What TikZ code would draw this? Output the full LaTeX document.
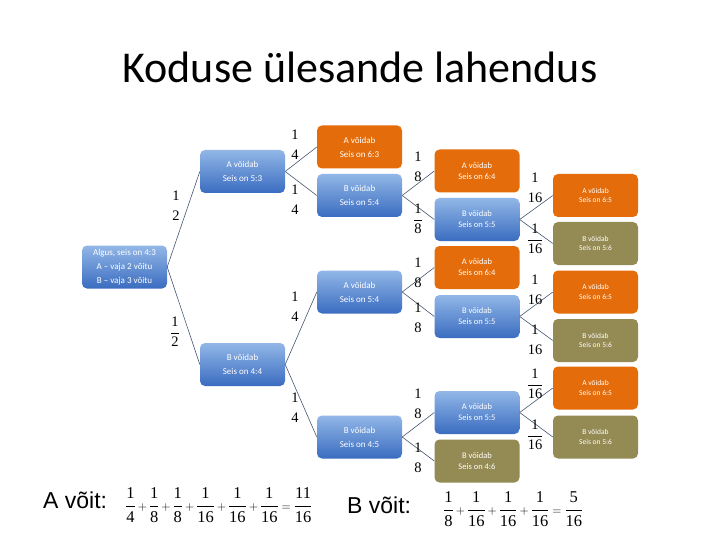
\documentclass[tikz,border=0pt]{standalone}
\usepackage{amsmath}
\usepackage{fontspec}
\setmainfont{Carlito}
\newfontfamily\tms{Liberation Serif}
\newfontfamily\arl{Liberation Sans}
\definecolor{boxblueT}{RGB}{146,183,231}
\definecolor{boxblueB}{RGB}{58,108,192}
\definecolor{boxorange}{RGB}{228,108,10}
\definecolor{boxolive}{RGB}{148,138,84}
\definecolor{edgecol}{RGB}{70,88,115}
\newcommand\efb[2]{$\genfrac{}{}{0.5pt}{0}{\text{#1}}{\text{#2}}$}
\newcommand\efn[2]{$\genfrac{}{}{0pt}{0}{\text{#1}}{\text{#2}}$}
\newcommand\spl{\mathbin{\scriptstyle +}}
\newcommand\seq{\mathrel{\scriptstyle =}}
\tikzset{
 box/.style={rectangle, rounded corners=5pt, minimum width=85pt, minimum height=43pt, inner sep=0pt, text=white, align=center},
 bluebox/.style={box, top color=boxblueT, bottom color=boxblueB},
 orangebox/.style={box, fill=boxorange},
 olivebox/.style={box, fill=boxolive},
 txtA/.style={font=\fontsize{9}{14}\selectfont},
 txtB/.style={font=\fontsize{8.5}{11}\selectfont},
 txtC/.style={font=\fontsize{7.5}{9.5}\selectfont},
 conn/.style={draw=edgecol, line width=0.6pt},
 prob/.style={font=\tms\fontsize{14.5}{17}\selectfont, inner sep=0pt},
 sumf/.style={font=\tms\fontsize{16.5}{19}\selectfont, inner sep=0pt, anchor=west},
 wlab/.style={font=\arl\fontsize{23}{26}\selectfont, inner sep=0pt, anchor=base west},
}
\begin{document}
\begin{tikzpicture}[x=1pt,y=-1pt]
\useasboundingbox[fill=white] (0,0) rectangle (720,540);
\node[font=\fontsize{44}{50}\selectfont, anchor=base, inner sep=0pt] (title) at (360,83) {Koduse ülesande lahendus};

% nodes
\node[bluebox, txtA] (root) at (124.5,267) {Algus, seis on 4:3\\A – vaja 2 võitu\\B – vaja 3 võitu};
\node[bluebox, txtA] (a1) at (242.5,171.5) {A võidab\\Seis on 5:3};
\node[bluebox, txtA] (b1) at (242.5,364.5) {B võidab\\Seis on 4:4};
\node[orangebox, txtA] (a2) at (359.5,147) {A võidab\\Seis on 6:3};
\node[bluebox, txtA] (b2) at (359.5,195.5) {B võidab\\Seis on 5:4};
\node[bluebox, txtA] (c2) at (359.5,292) {A võidab\\Seis on 5:4};
\node[bluebox, txtA] (d2) at (359.5,437) {B võidab\\Seis on 4:5};
\node[orangebox, txtB] (e3) at (477,171) {A võidab\\Seis on 6:4};
\node[bluebox, txtB] (f3) at (477,219.5) {B võidab\\Seis on 5:5};
\node[orangebox, txtB] (g3) at (477,267.5) {A võidab\\Seis on 6:4};
\node[bluebox, txtB] (h3) at (477,316.5) {B võidab\\Seis on 5:5};
\node[bluebox, txtB] (i3) at (477,412.5) {A võidab\\Seis on 5:5};
\node[olivebox, txtB] (j3) at (477,461) {B võidab\\Seis on 4:6};
\node[orangebox, txtC] (k4) at (595.5,195.5) {A võidab\\Seis on 6:5};
\node[olivebox, txtC] (l4) at (595.5,243.5) {B võidab\\Seis on 5:6};
\node[orangebox, txtC] (m4) at (595.5,292) {A võidab\\Seis on 6:5};
\node[olivebox, txtC] (n4) at (595.5,340.5) {B võidab\\Seis on 5:6};
\node[orangebox, txtC] (o4) at (595.5,388) {A võidab\\Seis on 6:5};
\node[olivebox, txtC] (p4) at (595.5,437) {B võidab\\Seis on 5:6};

% connectors
\draw[conn] (root.east) -- (a1.west);
\draw[conn] (root.east) -- (b1.west);
\draw[conn] (a1.east) -- (a2.west);
\draw[conn] (a1.east) -- (b2.west);
\draw[conn] (b1.east) -- (c2.west);
\draw[conn] (b1.east) -- (d2.west);
\draw[conn] (b2.east) -- (e3.west);
\draw[conn] (b2.east) -- (f3.west);
\draw[conn] (c2.east) -- (g3.west);
\draw[conn] (c2.east) -- (h3.west);
\draw[conn] (d2.east) -- (i3.west);
\draw[conn] (d2.east) -- (j3.west);
\draw[conn] (f3.east) -- (k4.west);
\draw[conn] (f3.east) -- (l4.west);
\draw[conn] (h3.east) -- (m4.west);
\draw[conn] (h3.east) -- (n4.west);
\draw[conn] (i3.east) -- (o4.west);
\draw[conn] (i3.east) -- (p4.west);

% probabilities
\node[prob] (p1) at (176,206) {\efn{1}{2}};
\node[prob] (p2) at (175,332) {\efb{1}{2}};
\node[prob] (p3) at (295,145) {\efn{1}{4}};
\node[prob] (p4) at (295,200) {\efn{1}{4}};
\node[prob] (p5) at (295,307) {\efn{1}{4}};
\node[prob] (p6) at (295,408) {\efn{1}{4}};
\node[prob] (p7) at (418,167) {\efn{1}{8}};
\node[prob] (p8) at (418,219) {\efb{1}{8}};
\node[prob] (p9) at (418,273) {\efn{1}{8}};
\node[prob] (p10) at (418,318) {\efn{1}{8}};
\node[prob] (p11) at (418,404) {\efn{1}{8}};
\node[prob] (p12) at (418,458) {\efn{1}{8}};
\node[prob] (p13) at (535,188) {\efn{1}{16}};
\node[prob] (p14) at (535,239) {\efb{1}{16}};
\node[prob] (p15) at (535,290) {\efn{1}{16}};
\node[prob] (p16) at (535,340) {\efn{1}{16}};
\node[prob] (p17) at (535,384) {\efb{1}{16}};
\node[prob] (p18) at (535,435) {\efb{1}{16}};

% results
\node[wlab] (awin) at (43,508) {A võit:};
\node[sumf] (asum) at (125,505) {\medmuskip=2mu\thickmuskip=3mu$\genfrac{}{}{0.5pt}{0}{\text{1}}{\text{4}}\spl\genfrac{}{}{0.5pt}{0}{\text{1}}{\text{8}}\spl\genfrac{}{}{0.5pt}{0}{\text{1}}{\text{8}}\spl\genfrac{}{}{0.5pt}{0}{\text{1}}{\text{16}}\spl\genfrac{}{}{0.5pt}{0}{\text{1}}{\text{16}}\spl\genfrac{}{}{0.5pt}{0}{\text{1}}{\text{16}}\seq\genfrac{}{}{0.5pt}{0}{\text{11}}{\text{16}}$};
\node[wlab] (bwin) at (347,513) {B võit:};
\node[sumf] (bsum) at (443,509) {\medmuskip=2mu\thickmuskip=3mu$\genfrac{}{}{0.5pt}{0}{\text{1}}{\text{8}}\spl\genfrac{}{}{0.5pt}{0}{\text{1}}{\text{16}}\spl\genfrac{}{}{0.5pt}{0}{\text{1}}{\text{16}}\spl\genfrac{}{}{0.5pt}{0}{\text{1}}{\text{16}}\seq\genfrac{}{}{0.5pt}{0}{\text{5}}{\text{16}}$};
\end{tikzpicture}
\end{document}
